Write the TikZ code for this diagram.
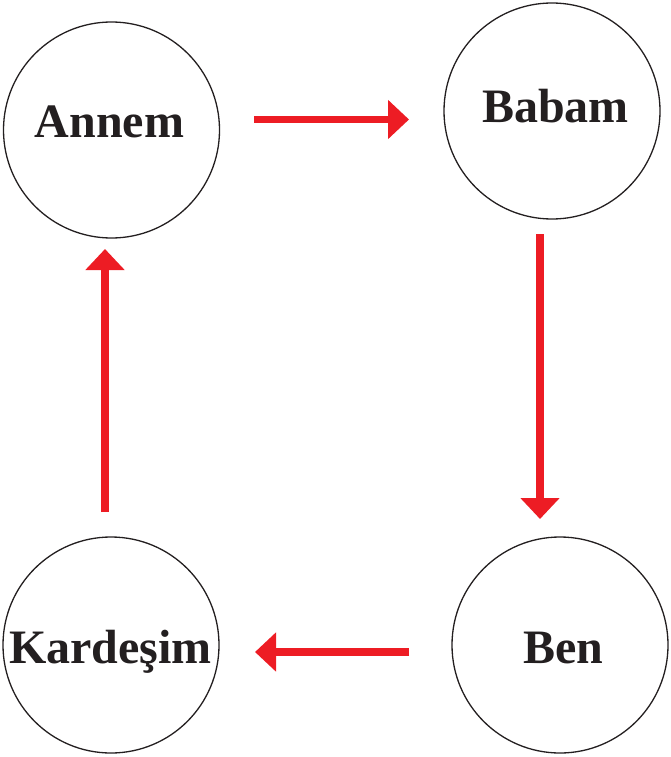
\documentclass[tikz,border=0pt]{standalone}
\usepackage{fontspec}
\setmainfont{Liberation Serif}
\usetikzlibrary{arrows.meta}
\definecolor{arrred}{RGB}{237,28,36}
\definecolor{ink}{RGB}{35,31,32}
\begin{document}
\begin{tikzpicture}[x=1pt,y=-1pt,
  person/.style={circle,draw=ink,line width=1.3pt,minimum size=216pt,inner sep=0pt},
  who/.style={anchor=base,font=\bfseries\fontsize{48}{48}\selectfont,text=ink,inner sep=0pt},
  flow/.style={draw=arrred,line width=7.5pt,-{Triangle[length=21pt,width=38pt]}}]
\useasboundingbox (0,0) rectangle (670,757);
% circles
\node[person] (annem) at (111.5,130) {};
\node[person] (babam) at (552,111) {};
\node[person] (kardesim) at (111,645) {};
\node[person] (ben) at (560,645) {};
% labels
\node[who] (tannem) at (109.5,138) {Annem};
\node[who] (tbabam) at (555.5,122) {Babam};
\node[who] (tkardesim) at (110.5,663) {Kardeşim};
\node[who] (tben) at (563.5,663) {Ben};
% connector ends
\coordinate (a1) at (254,119.5);
\coordinate (a2) at (409,119.5);
\coordinate (b1) at (540,234);
\coordinate (b2) at (540,519);
\coordinate (c1) at (409,652);
\coordinate (c2) at (255,652);
\coordinate (d1) at (105,512);
\coordinate (d2) at (105,249);
% connectors
\draw[flow] (a1) -- (a2);
\draw[flow] (b1) -- (b2);
\draw[flow] (c1) -- (c2);
\draw[flow] (d1) -- (d2);
\end{tikzpicture}
\end{document}
